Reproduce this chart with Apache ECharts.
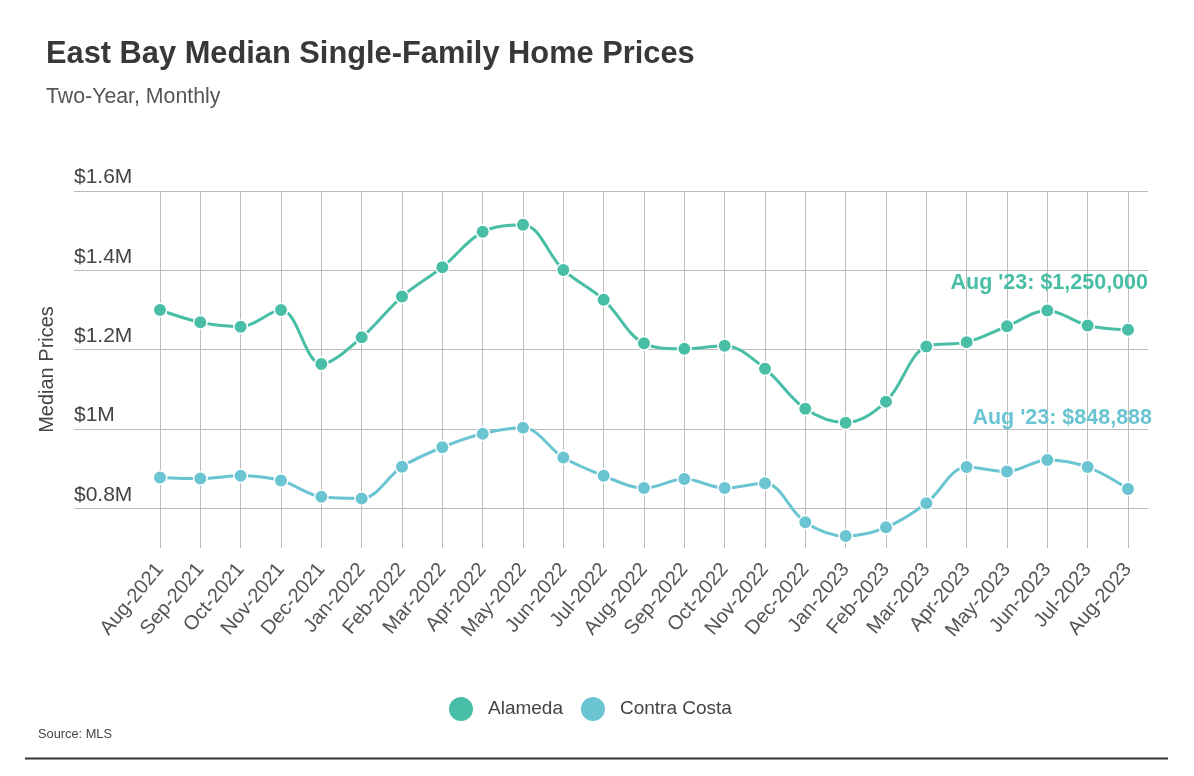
<!DOCTYPE html>
<html>
<head>
<meta charset="utf-8">
<script src="https://cdn.jsdelivr.net/npm/echarts@6/dist/echarts.min.js"></script>
<style>
html,body{margin:0;padding:0;background:#fff;}
#chart{width:1194px;height:776px;}
</style>
</head>
<body>
<div id="chart"></div>
<script>
const categories = ['Aug-2021','Sep-2021','Oct-2021','Nov-2021','Dec-2021','Jan-2022','Feb-2022','Mar-2022','Apr-2022','May-2022','Jun-2022','Jul-2022','Aug-2022','Sep-2022','Oct-2022','Nov-2022','Dec-2022','Jan-2023','Feb-2023','Mar-2023','Apr-2023','May-2023','Jun-2023','Jul-2023','Aug-2023'];
const alameda = [1300000,1269000,1258000,1300000,1164000,1231000,1334000,1408000,1497000,1515000,1401000,1326000,1216000,1202000,1210000,1152000,1051000,1016000,1069000,1208000,1219000,1259000,1299000,1261000,1250000];
const contraCosta = [878000,875000,882000,870000,829000,825000,905000,954000,988000,1003000,928000,882000,851000,874000,851000,863000,765000,730000,752000,813000,904000,893000,922000,904000,848888];
const yTicks = [800000,1000000,1200000,1400000,1600000];
const yTickLabels = ['$0.8M','$1M','$1.2M','$1.4M','$1.6M'];
const seriesNames = ['Alameda','Contra Costa'];
const colors = ['#48BEA6','#6AC4D1'];

const FONT = 'Liberation Sans, Arial, sans-serif';

function endText(cat, v){
  const parts = cat.split('-');
  return parts[0] + " '" + parts[1].slice(2) + ': $' + v.toLocaleString('en-US');
}
function buildData(values, color, offset){
  const last = values.length - 1;
  return values.map((v,i) => i === last ? {
    value: v,
    label: {
      show: true, position: 'top', distance: 0,
      align: 'right', verticalAlign: 'middle',
      offset: offset,
      formatter: () => endText(categories[last], v),
      color: color, fontFamily: FONT, fontWeight: 'bold', fontSize: 21.5, lineHeight: 22
    }
  } : v);
}

const chart = echarts.init(document.getElementById('chart'), null, {renderer:'canvas'});
const gridColor = '#bcbcbc';
chart.setOption({
  animation: false,
  backgroundColor: '#fff',
  title: [
    {text: 'East Bay Median Single-Family Home Prices', left: 41, top: 34,
     textStyle: {fontFamily: FONT, fontWeight: 'bold', fontSize: 30.8, lineHeight: 31, color: '#383838'}},
    {text: 'Two-Year, Monthly', left: 41, top: 82,
     textStyle: {fontFamily: FONT, fontWeight: 'normal', fontSize: 21.3, lineHeight: 21, color: '#555'}}
  ],
  legend: {
    data: seriesNames, left: 442, top: 690, icon: 'circle',
    itemWidth: 26, itemHeight: 26, itemGap: 16,
    textStyle: {fontFamily: FONT, fontSize: 19, color: '#444', padding: [0,0,0,9]}
  },
  grid: {left: 160, right: 66, top: 191, bottom: 228, containLabel: false},
  xAxis: {
    type: 'category', data: categories, boundaryGap: false,
    axisLine: {show: false}, axisTick: {show: false},
    splitLine: {show: true, lineStyle: {color: gridColor, width: 1}},
    axisLabel: {rotate: 50, margin: 18, fontFamily: FONT, fontSize: 20, color: '#555', interval: 0}
  },
  yAxis: [
    {
      type: 'value', min: 700000, max: 1600000, position: 'left',
      name: 'Median Prices', nameLocation: 'middle', nameGap: 103, nameRotate: 90,
      nameTextStyle: {fontFamily: FONT, fontSize: 20, color: '#444'},
      axisLine: {show: false},
      axisTick: {show: true, customValues: yTicks, length: 86, inside: false, lineStyle: {color: gridColor, width: 1}},
      splitLine: {show: true, lineStyle: {color: gridColor, width: 1}},
      axisLabel: {
        customValues: yTicks, inside: false, margin: 86, align: 'left', verticalAlign: 'bottom',
        padding: [0,0,3,0], fontFamily: FONT, fontSize: 21, color: '#444',
        formatter: v => yTickLabels[yTicks.indexOf(v)]
      }
    },
    {
      type: 'value', min: 700000, max: 1600000, position: 'right',
      axisLine: {show: false},
      axisTick: {show: true, customValues: yTicks, length: 20, inside: false, lineStyle: {color: gridColor, width: 1}},
      splitLine: {show: false},
      axisLabel: {show: false}
    }
  ],
  series: [
    {
      name: seriesNames[0], type: 'line', smooth: 0.35, yAxisIndex: 0,
      data: buildData(alameda, colors[0], [20, -39]),
      symbol: 'circle', symbolSize: 13.5, showAllSymbol: true,
      lineStyle: {color: colors[0], width: 3},
      itemStyle: {color: colors[0], borderColor: '#fff', borderWidth: 1.5}
    },
    {
      name: seriesNames[1], type: 'line', smooth: 0.35, yAxisIndex: 0,
      data: buildData(contraCosta, colors[1], [24, -63]),
      symbol: 'circle', symbolSize: 13.5, showAllSymbol: true,
      lineStyle: {color: colors[1], width: 3},
      itemStyle: {color: colors[1], borderColor: '#fff', borderWidth: 1.5}
    }
  ],
  graphic: [
    {type: 'text', left: 38, top: 728, style: {text: 'Source: MLS', fontFamily: FONT, fontSize: 12.8, fill: '#444'}},
    {type: 'line', shape: {x1: 25, y1: 758.5, x2: 1168, y2: 758.5}, style: {stroke: '#333', lineWidth: 2}}
  ]
});
</script>
</body>
</html>
